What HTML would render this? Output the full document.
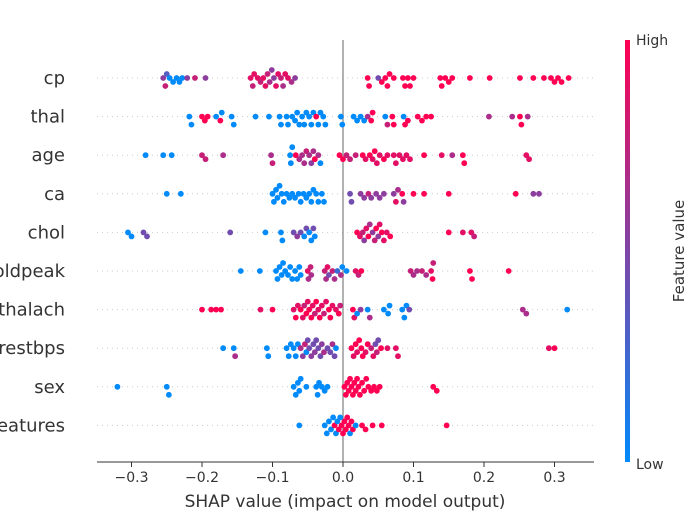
<!DOCTYPE html>
<html><head><meta charset="utf-8"><style>
body{margin:0;background:#fff;}
svg text{font-family:"DejaVu Sans","Liberation Sans",sans-serif;}
</style></head><body>
<svg id="chart" width="694" height="520" xmlns="http://www.w3.org/2000/svg">
<defs><linearGradient id="cb" x1="0" y1="1" x2="0" y2="0">
<stop offset="0" stop-color="#008afb"/><stop offset="0.5" stop-color="#7f45a6"/><stop offset="1" stop-color="#ff0052"/></linearGradient></defs>
<g id="grid"></g>
<line x1="343" y1="40" x2="343" y2="462" stroke="#999" stroke-width="1.5"/>
<g id="dots"></g>
<g id="labels"></g>
<line x1="97" y1="462" x2="594" y2="462" stroke="#333" stroke-width="1"/>
<g id="ticks"></g>
<text x="345" y="507" text-anchor="middle" font-size="17" fill="#333">SHAP value (impact on model output)</text>
<rect x="625" y="40" width="5" height="422" fill="url(#cb)"/>
<text x="636" y="45" font-size="14" fill="#333">High</text>
<text x="636" y="469" font-size="14" fill="#333">Low</text>
<text transform="translate(684,251) rotate(-90)" text-anchor="middle" font-size="15" fill="#333">Feature value</text>
</svg>
<script>
const features=["cp","thal","age","ca","chol","oldpeak","thalach","trestbps","sex","Sum of 4 other features"];
const ticks=[-0.3,-0.2,-0.1,0.0,0.1,0.2,0.3];
const tickLabels=["\u22120.3","\u22120.2","\u22120.1","0.0","0.1","0.2","0.3"];
// shap value (x1000) : color level 0(low)..9(high)
const rowCp="-255:5 -252:7 -250:3 -246:0 -241:0 -236:0 -232:0 -228:0 -221:5 -210:7 -195:5 -131:8 -128:7 -126:8 -121:8 -117:7 -113:8 -110:8 -107:7 -104:6 -101:5 -98:5 -95:8 -92:8 -88:7 -85:6 -82:8 -78:8 -73:6 -68:5 35:9 37:9 50:4 55:9 60:9 63:9 66:9 72:9 85:9 88:9 92:9 95:9 100:9 138:9 140:9 145:9 150:9 155:9 180:9 208:9 251:9 270:9 285:9 295:9 300:9 305:9 310:9 320:9";
const rowThal="-218:0 -215:0 -200:9 -196:9 -192:9 -180:0 -174:9 -172:0 -158:0 -155:0 -124:0 -105:0 -90:0 -88:0 -80:0 -78:0 -72:0 -68:0 -65:0 -62:0 -58:0 -55:0 -52:0 -48:0 -45:0 -42:0 -38:9 -35:0 -32:0 -28:0 -25:0 -3:0 -1:0 15:0 20:0 25:0 30:0 35:6 40:9 42:9 60:0 63:7 70:9 72:9 86:0 88:9 92:9 106:9 112:9 118:9 125:9 207:6 240:6 251:9 253:9 262:6";
const rowAge="-280:0 -255:0 -243:0 -200:7 -195:7 -170:6 -102:6 -100:7 -75:0 -74:0 -72:0 -67:9 -62:6 -58:6 -55:6 -52:7 -48:6 -45:5 -42:6 -40:9 -35:6 -32:0 -5:9 0:9 5:7 10:7 18:7 28:9 32:8 38:9 42:8 45:9 48:8 52:8 58:9 63:8 72:8 75:8 80:8 85:8 90:8 95:8 115:9 140:8 155:6 170:9 172:9 260:8 264:8";
const rowCa="-250:0 -230:0 -100:0 -98:0 -95:0 -93:0 -90:0 -87:0 -84:0 -80:0 -76:0 -72:0 -68:0 -63:0 -60:0 -56:0 -52:0 -48:0 -45:0 -42:0 -38:0 -35:0 -30:0 -27:0 10:4 12:4 25:5 30:5 36:7 40:5 47:5 52:5 58:5 72:5 75:8 78:6 84:9 86:5 100:9 115:9 150:9 245:9 270:5 278:5";
const rowChol="-305:0 -300:0 -283:4 -278:4 -160:4 -110:0 -88:0 -86:0 -70:4 -65:5 -60:4 -55:0 -52:4 -48:0 -45:0 -42:4 -40:0 20:9 24:8 28:7 30:5 33:8 36:9 38:6 42:5 45:7 47:9 50:5 52:8 55:9 58:8 62:8 67:9 150:9 170:8 182:8 186:7";
const rowOld="-145:0 -118:0 -95:0 -93:0 -90:0 -87:0 -85:0 -82:0 -78:0 -75:0 -72:0 -68:0 -65:0 -62:0 -60:0 -50:8 -49:6 -46:7 -45:6 -26:7 -24:6 -22:8 -20:4 -15:7 -12:6 -8:2 -3:6 -1:0 5:0 18:8 22:7 26:9 96:7 100:6 105:6 112:7 118:6 125:8 127:9 128:7 180:9 183:9 235:9";
const rowThalach="-200:9 -187:9 -180:9 -173:9 -117:8 -100:9 -70:8 -67:9 -64:8 -60:9 -57:8 -55:7 -52:9 -50:8 -48:9 -45:9 -43:8 -40:7 -38:9 -35:8 -33:9 -30:8 -27:7 -24:8 -20:9 -18:9 -15:8 -10:8 -6:9 -4:7 14:9 16:8 20:0 25:5 35:0 38:6 58:0 64:0 66:0 84:0 87:0 90:0 94:4 255:6 260:6 318:0";
const rowTrest="-170:0 -155:0 -153:6 -108:0 -106:0 -80:0 -77:0 -74:0 -70:0 -67:0 -64:0 -60:6 -57:5 -54:7 -52:0 -50:4 -48:4 -45:5 -42:4 -40:5 -38:4 -35:4 -32:4 -30:5 -27:6 -22:4 -18:4 -15:6 -12:4 -10:0 12:9 15:8 18:9 20:8 23:9 26:9 28:9 32:8 35:9 40:7 43:8 46:4 48:7 50:4 54:9 63:8 75:8 78:8 292:8 300:9";
const rowSex="-320:0 -250:0 -247:0 -70:0 -67:0 -64:0 -62:0 -60:0 -52:0 -38:0 -36:0 -34:0 -30:0 -26:0 -22:0 2:9 4:9 6:9 8:9 10:9 12:9 14:9 16:9 18:9 20:9 22:9 24:9 27:9 30:9 33:9 36:9 40:9 44:9 48:9 52:9 128:9 133:9";
const rowOther="-62:0 -26:0 -23:0 -20:0 -17:0 -14:0 -12:9 -10:0 -8:0 -6:9 -4:0 -2:9 0:9 2:9 4:9 6:9 8:9 10:0 12:9 14:9 18:0 27:9 32:9 42:9 55:9 147:9";
const rows=[rowCp,rowThal,rowAge,rowCa,rowChol,rowOld,rowThalach,rowTrest,rowSex,rowOther];

const NS="http://www.w3.org/2000/svg";
const xs=v=>343+v*705;
const ys=i=>78+i*38.6;
function color(c){const t=c/9;const a=[0,138,250],m=[127,69,166],b=[255,0,82];let r=[];for(let k=0;k<3;k++){r[k]=t<0.5?a[k]+(m[k]-a[k])*t*2:m[k]+(b[k]-m[k])*(t-0.5)*2;}return `rgb(${r.map(Math.round).join(",")})`;}
const grid=document.getElementById("grid"),dots=document.getElementById("dots"),labels=document.getElementById("labels"),tk=document.getElementById("ticks");
features.forEach((f,i)=>{
  const l=document.createElementNS(NS,"line");
  l.setAttribute("x1",97);l.setAttribute("x2",594);l.setAttribute("y1",ys(i));l.setAttribute("y2",ys(i));
  l.setAttribute("stroke","#ccc");l.setAttribute("stroke-dasharray","1,4");
  
  
  grid.appendChild(l);
  const t=document.createElementNS(NS,"text");
  t.setAttribute("x",65);t.setAttribute("y",ys(i)+6);t.setAttribute("text-anchor","end");t.setAttribute("font-size","18");t.setAttribute("fill","#333");
  t.textContent=f;
  
  
  labels.appendChild(t);
  const pts=rows[i].split(" ").map(s=>{const p=s.split(":");return {v:+p[0]/1000,c:+p[1]};});
  const placed=[];
  pts.forEach(p=>{
    const x=xs(p.v);let off=0;
    for(let k=0;k<40;k++){const o=(k%2?1:-1)*Math.ceil(k/2)*4;
      if(placed.every(q=>Math.hypot(q.x-x,q.y-o)>=4.6)){off=o;break;}}
    placed.push({x:x,y:off});
    const c=document.createElementNS(NS,"circle");
    c.setAttribute("cx",x);c.setAttribute("cy",ys(i)+off);c.setAttribute("r",2.9);c.setAttribute("fill",color(p.c));
    
    
    dots.appendChild(c);
  });
});
ticks.forEach((v,i)=>{
  const l=document.createElementNS(NS,"line");
  l.setAttribute("x1",xs(v));l.setAttribute("x2",xs(v));l.setAttribute("y1",462);l.setAttribute("y2",467);l.setAttribute("stroke","#333");
  
  
  tk.appendChild(l);
  const t=document.createElementNS(NS,"text");
  t.setAttribute("x",xs(v));t.setAttribute("y",482);t.setAttribute("text-anchor","middle");t.setAttribute("font-size","14");t.setAttribute("fill","#333");
  t.textContent=tickLabels[i];
  
  
  tk.appendChild(t);
});
</script>
</body></html>
